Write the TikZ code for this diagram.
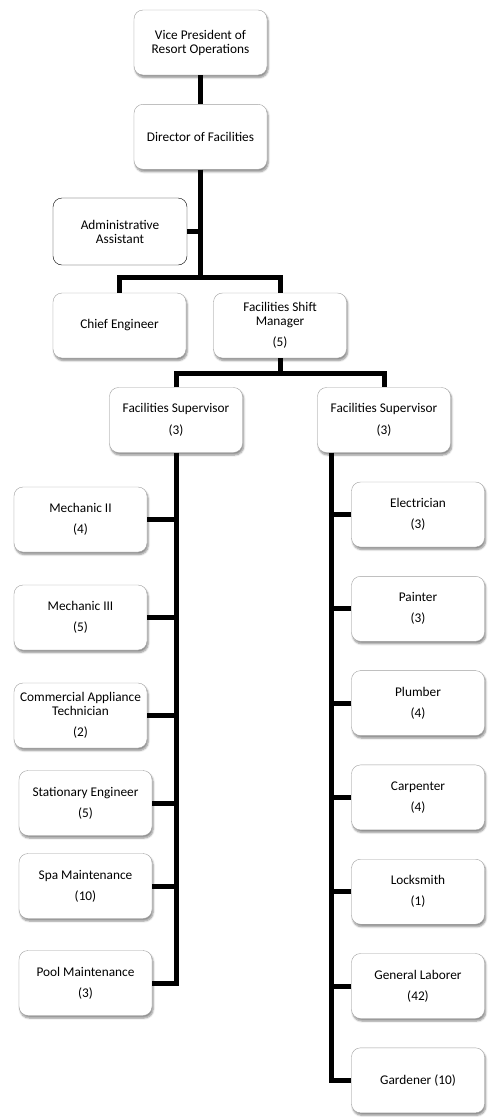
\documentclass[tikz,border=0pt]{standalone}
\usepackage{fontspec}
\setmainfont{Carlito}
\colorlet{boxline}{gray!75}
\usetikzlibrary{shadows.blur,positioning}
\tikzstyle{plainbox}=[draw,fill=white,rounded corners=9pt,minimum width=133pt,
minimum height=65pt,align=center,inner sep=2pt,font=\fontsize{13.3}{14}\selectfont]
\tikzstyle{job}=[plainbox,draw=boxline,blur shadow={shadow xshift=1.2pt,
  shadow yshift=-2.5pt,shadow blur steps=6,shadow opacity=45}]
\tikzstyle{link}=[line width=5pt,line join=miter]

\begin{document}
\begin{tikzpicture}[x=1pt, y=-1pt, on grid, node distance=94.3pt]
  \useasboundingbox (0,0) rectangle (490,1117);

  \node[job] at (200.5,42.5)        (vp)    {Vice President of\\Resort Operations};
  \node[job, below=of vp]           (dir)   {Director of Facilities};
  \node[plainbox, minimum width=134pt, minimum height=67pt] at (120,231.5)
                                    (admin) {Administrative\\Assistant};
  \node[job] at (119.5,325.5)       (chief) {Chief Engineer};
  \node[job, right=160.5pt of chief] (shift) {Facilities Shift\\Manager\\[7pt](5)};
  \node[job] at (176,420)           (supL)  {Facilities Supervisor\\[8pt](3)};
  \node[job, right=208pt of supL]   (supR)  {Facilities Supervisor\\[8pt](3)};

  \node[job] at (80.5,519.5)        (mech2) {Mechanic II\\[7pt](4)};
  \node[job] at (80.5,617.5)        (mech3) {Mechanic III\\[7pt](5)};
  \node[job] at (80.5,715.5)        (tech)  {Commercial Appliance\\Technician\\[7pt](2)};
  \node[job] at (85.5,803)          (stat)  {Stationary Engineer\\[7pt](5)};
  \node[job] at (85.5,886)          (spa)   {Spa Maintenance\\[7pt](10)};
  \node[job] at (85.5,983)          (pool)  {Pool Maintenance\\[7pt](3)};

  \node[job] at (418,514.5)         (elec)  {Electrician\\[7pt](3)};
  \node[job, below=of elec]         (paint) {Painter\\[7pt](3)};
  \node[job, below=of paint]        (plumb) {Plumber\\[7pt](4)};
  \node[job, below=of plumb]        (carp)  {Carpenter\\[7pt](4)};
  \node[job, below=of carp]         (lock)  {Locksmith\\[7pt](1)};
  \node[job, below=of lock]         (labor) {General Laborer\\[7pt](42)};
  \node[job, below=of labor]        (gard)  {Gardener (10)};

  \coordinate (split1) at (200.5,277);
  \coordinate (split2) at (280,373);
  \coordinate (rtrunk) at (331,452.5);

  \draw[link] (vp) -- (dir);
  \draw[link] (dir) -- (split1);
  \draw[link] (admin) -- (admin -| dir);
  \draw[link] (chief) |- (split1) -| (shift);
  \draw[link] (shift) -- (split2);
  \draw[link] (supL) |- (split2) -| (supR);

  \draw[link] (supL) |- (pool);
  \foreach \n in {mech2,mech3,tech,stat,spa}
    \draw[link] (\n) -- (\n -| supL);

  \draw[link] (rtrunk) |- (gard);
  \foreach \n in {elec,paint,plumb,carp,lock,labor}
    \draw[link] (\n) -- (\n -| rtrunk);
\end{tikzpicture}
\end{document}
